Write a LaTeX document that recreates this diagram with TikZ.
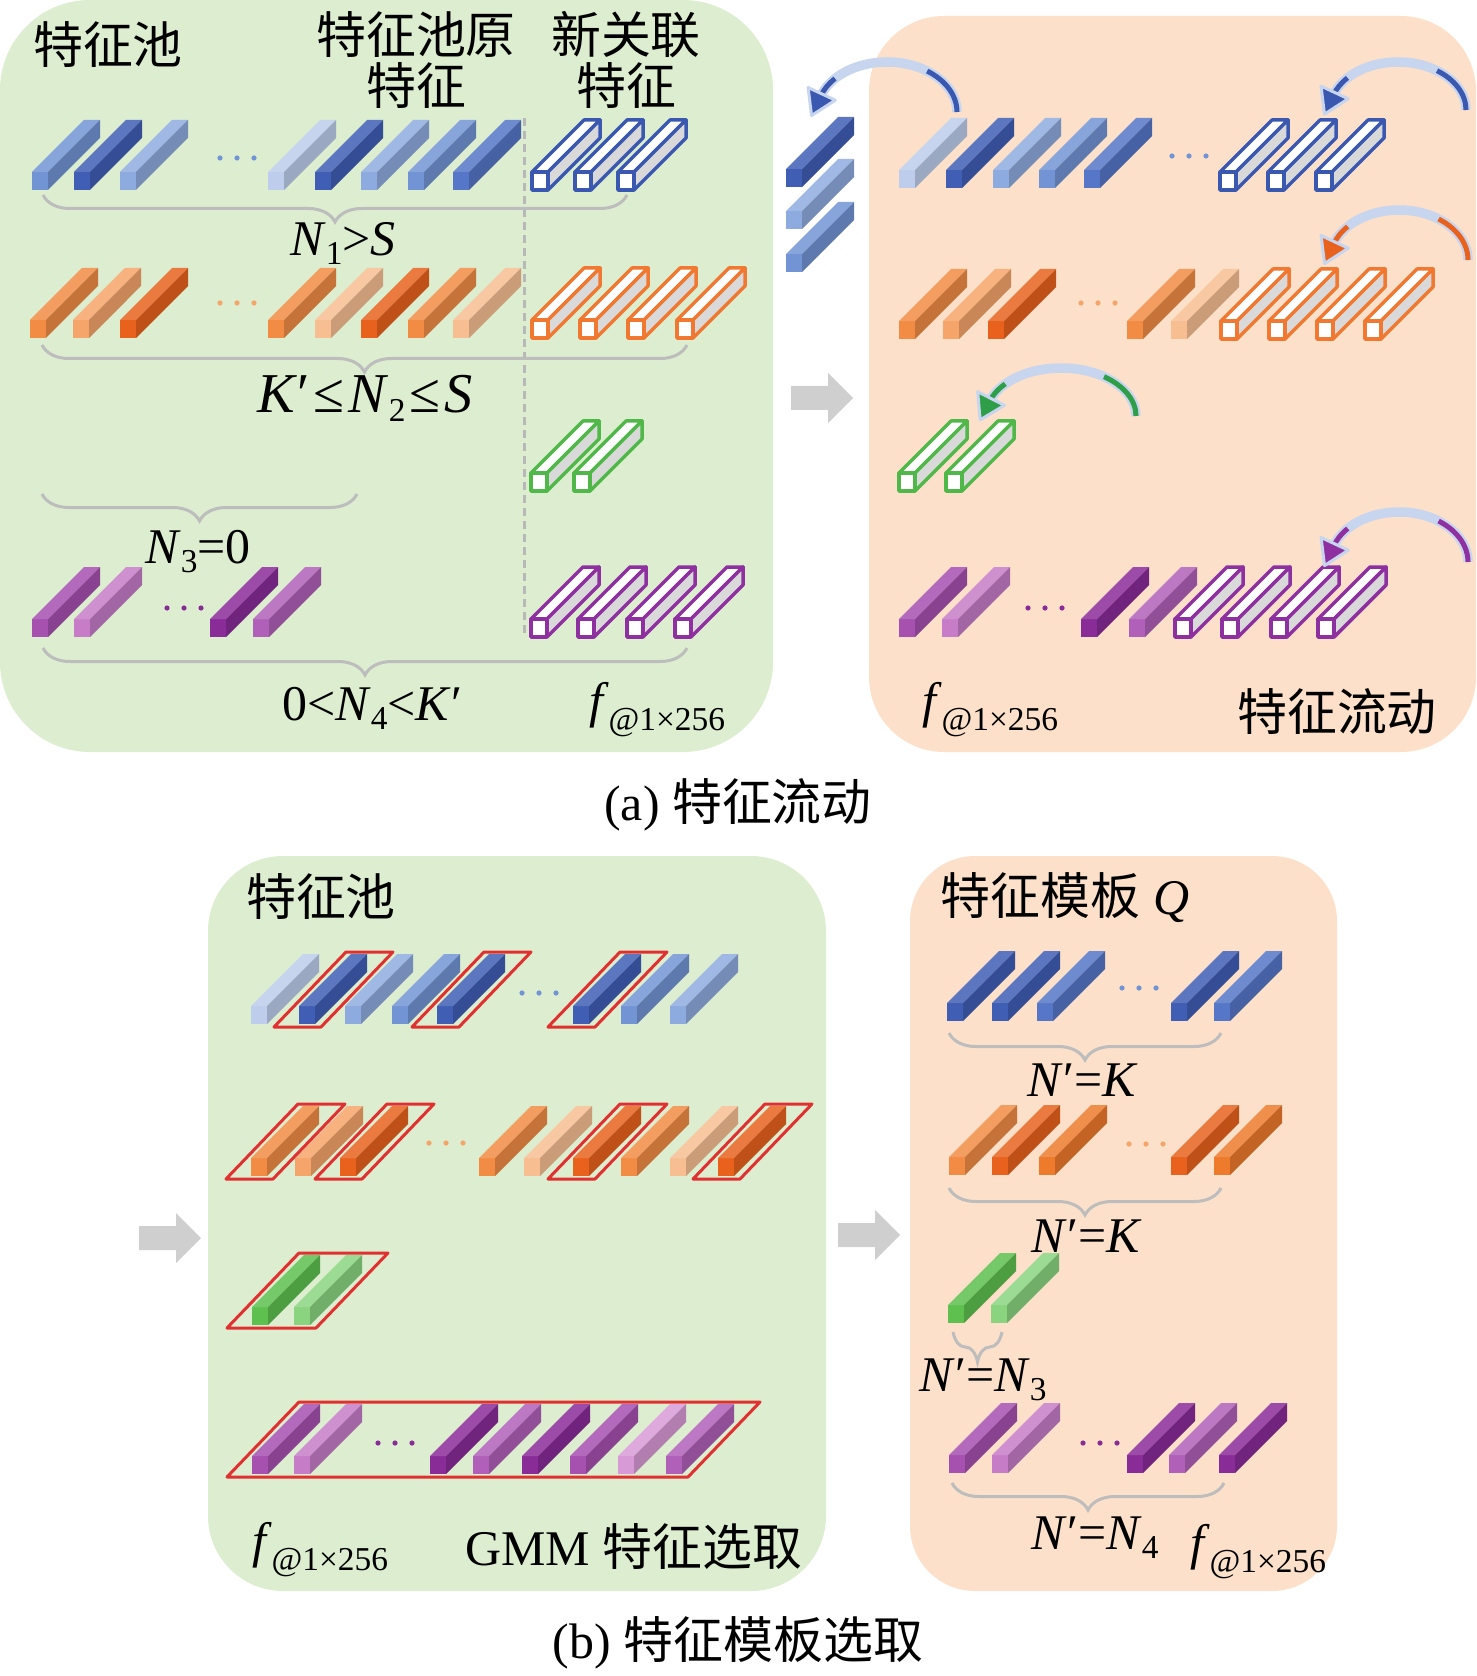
\documentclass[tikz,border=0pt]{standalone}
\usepackage{fontspec}
\setmainfont{Liberation Serif}
\newfontfamily\cjk{Noto Sans CJK SC}
\usetikzlibrary{arrows.meta,decorations.pathreplacing}

\definecolor{greenbg}{HTML}{DCEDD0}
\definecolor{orangebg}{HTML}{FCE0C9}
\definecolor{bA}{HTML}{BDCDEB}
\definecolor{bB}{HTML}{8EABDF}
\definecolor{bC}{HTML}{7294D4}
\definecolor{bD}{HTML}{5677C8}
\definecolor{bE}{HTML}{3F5EB4}
\definecolor{oA}{HTML}{F7BE92}
\definecolor{oB}{HTML}{F5A46A}
\definecolor{oC}{HTML}{F28C45}
\definecolor{oD}{HTML}{EE7A2C}
\definecolor{oE}{HTML}{E8621E}
\definecolor{gA}{HTML}{5EC04F}
\definecolor{gB}{HTML}{8AD480}
\definecolor{pA}{HTML}{A650B0}
\definecolor{pB}{HTML}{C77CC8}
\definecolor{pC}{HTML}{8A2C98}
\definecolor{pD}{HTML}{B060B8}
\definecolor{pE}{HTML}{D89AD6}
\definecolor{hB}{HTML}{3A58B0}
\definecolor{hO}{HTML}{F07830}
\definecolor{hG}{HTML}{50B848}
\definecolor{hP}{HTML}{8E30A0}
\definecolor{dG}{HTML}{2E9E48}
\definecolor{braceg}{HTML}{BDBDBD}
\definecolor{dashg}{HTML}{B8B8B8}
\definecolor{garrowc}{HTML}{CFCFCF}
\definecolor{selred}{HTML}{E03030}
\definecolor{arrowlight}{HTML}{C8D5EE}

\tikzset{
  pics/fbar/.style={code={
    \fill[#1] (0,0) rectangle (16,-18);
    \fill[#1!85!white] (0,-18) -- (16,-18) -- (68,-70) -- (52,-70) -- cycle;
    \fill[#1!82!black] (16,0) -- (16,-18) -- (68,-70) -- (68,-52) -- cycle;
  }},
  pics/hbar/.style={code={
    \begin{scope}[draw=#1, line width=0.35mm, line join=round]
    \filldraw[fill=white] (0,-18) -- (16,-18) -- (68,-70) -- (52,-70) -- cycle;
    \filldraw[fill=gray!30] (16,0) -- (16,-18) -- (68,-70) -- (68,-52) -- cycle;
    \filldraw[fill=white] (0,0) rectangle (16,-18);
    \end{scope}
  }},
  pics/garrow/.style={code={
    \fill[garrowc] (0,-12) -- (37,-12) -- (37,-25) -- (62,0) -- (37,25) -- (37,12) -- (0,12) -- cycle;
  }},
  pics/fhead/.style={code={
    \filldraw[fill=#1, draw=arrowlight, line width=0.3mm, line join=round] (-15,-3) -- (15,-3) -- (0,21) -- cycle;
  }},
  brc/.style={draw=braceg, line width=0.3mm, decorate, decoration={brace, mirror, amplitude=2.7mm}},
  sel/.style={draw=selred, line width=0.3mm, line join=round},
  lbl/.style={inner sep=0pt, font=\fontsize{14.2}{14.5}\selectfont},
  cjklbl/.style={inner sep=0pt, font=\cjk\fontsize{14.2}{14.5}\selectfont},
}

\newcommand\sub[1]{\raisebox{-0.9mm}{\fontsize{9.5}{9.5}\selectfont#1}}
\newcommand\fdim{\textit{f}\raisebox{-1.3mm}{\fontsize{9.5}{9.5}\selectfont @1×256}}
\newcommand\tdots[3]{\foreach \k in {0,1,2} \fill[#3] (#1+17*\k,#2) circle (0.26mm);}
\newcommand\selbox[3]{\draw[sel] (#1-25,#3+3) -- (#2+22,#3+3) -- (#2+94,#3-72) -- (#1+47,#3-72) -- cycle;}
\newcommand\flow[7]{%
  \coordinate (#1) at (#2,#3);
  \path (#1) arc[start angle=0, end angle=-162, x radius=#4, y radius=#5] coordinate (#1h);
  \draw[arrowlight, line width=0.95mm] (#1) arc[start angle=0, end angle=-162, x radius=#4, y radius=#5];
  \draw[#6, line width=0.5mm] (#1) arc[start angle=0, end angle=-55, x radius=#4, y radius=#5];
  \draw[#6, line width=0.5mm] (#1h) arc[start angle=-162, end angle=-138, x radius=#4, y radius=#5];
  \pic[rotate=#7] at (#1h) {fhead=#6};}

\begin{document}
\begin{tikzpicture}[x=0.1mm, y=-0.1mm]
\useasboundingbox (0,0) rectangle (1476,1676);
\fill[greenbg, rounded corners=9mm] (0,0) rectangle (773,752);
\fill[orangebg, rounded corners=7.5mm] (869,16) rectangle (1476,752);
\fill[greenbg, rounded corners=7.5mm] (208,856) rectangle (826,1591);
\fill[orangebg, rounded corners=6.5mm] (910,856) rectangle (1337,1591);

\coordinate (sepTop) at (524,118);
\coordinate (sepBot) at (524,635);
\draw[dashg, line width=0.3mm, dash pattern=on 0.8mm off 0.5mm] (sepTop) -- (sepBot);

\foreach \x/\col in {32/bC,74/bE,120/bB,268/bA,315/bE,361/bB,408/bC,453/bD} \pic at (\x,190) {fbar=\col};
\foreach \x in {532,575,618} \pic at (\x,190) {hbar=hB};
\tdots{220}{158}{bC}
\foreach \x/\col in {30/oC,73/oB,120/oE,268/oC,315/oA,361/oE,408/oC,453/oA} \pic at (\x,338) {fbar=\col};
\foreach \x in {532,580,628,677} \pic at (\x,338) {hbar=hO};
\tdots{220}{303}{oB}
\foreach \x in {531,574} \pic at (\x,491) {hbar=hG};
\foreach \x/\col in {32/pA,74/pB,210/pC,253/pD} \pic at (\x,637) {fbar=\col};
\foreach \x in {531,578,627,675} \pic at (\x,637) {hbar=hP};
\tdots{167}{608}{pC}

\draw[brc] (43,195) -- (627,195);
\draw[brc] (42,345) -- (687,345);
\draw[brc] (42,494) -- (357,494);
\draw[brc] (43,648) -- (687,648);

\node[cjklbl] (poolA) at (108,45) {特征池};
\node[cjklbl, align=center] (oldA) at (416,60) {特征池原\\特征};
\node[cjklbl, align=center] (newA) at (626,60) {新关联\\特征};
\node[lbl] (nOne) at (343,243) {\textit{N}\sub{1}>\textit{S}};
\node[lbl, font=\fontsize{16}{16}\selectfont] (nTwo) at (365,398) {\textit{K}′\kern0.4mm≤\kern0.4mm\textit{N}\sub{2}\kern0.4mm≤\kern0.4mm\textit{S}};
\node[lbl] (nThree) at (198,552) {\textit{N}\sub{3}=0};
\node[lbl] (nFour) at (372,708) {0<\textit{N}\sub{4}<\textit{K}′};
\node[lbl] (fA) at (657,710) {\fdim};

\foreach \y/\col in {187/bE,229/bB,272/bC} \pic at (786,\y) {fbar=\col};
\pic at (791,398) {garrow};

\foreach \x/\col in {899/bA,946/bE,993/bB,1039/bC,1084/bD} \pic at (\x,188) {fbar=\col};
\tdots{1172}{156}{bC}
\foreach \x in {1220,1268,1316} \pic at (\x,190) {hbar=hB};
\foreach \x/\col in {899/oC,943/oB,988/oE,1127/oC,1171/oA} \pic at (\x,339) {fbar=\col};
\tdots{1081}{303}{oB}
\foreach \x in {1221,1269,1317,1365} \pic at (\x,339) {hbar=hO};
\foreach \x in {899,946} \pic at (\x,491) {hbar=hG};
\foreach \x/\col in {899/pA,942/pB,1081/pC,1129/pD} \pic at (\x,637) {fbar=\col};
\tdots{1028}{608}{pC}
\foreach \x in {1175,1222,1271,1318} \pic at (\x,637) {hbar=hP};

\flow{flowOut}{957}{112}{70}{50}{hB}{-25}
\flow{flowBlue}{1466}{110}{68}{48}{hB}{-25}
\flow{flowOrange}{1468}{260}{69}{50}{oE}{-25}
\flow{flowGreen}{1136}{416}{75}{48}{dG}{-27}
\flow{flowPurple}{1468}{562}{69}{50}{hP}{-25}

\node[lbl] (fB) at (990,710) {\fdim};
\node[cjklbl] (flowT) at (1337,712) {特征流动};
\node[lbl] (capA) at (738,805) {(a) {\cjk 特征流动}};

\foreach \x/\col in {251/bA,299/bE,345/bB,392/bC,437/bE,573/bE,621/bC,670/bB} \pic at (\x,1024) {fbar=\col};
\tdots{522}{993}{bC}
\selbox{299}{299}{1024}
\selbox{437}{437}{1024}
\selbox{573}{573}{1024}
\foreach \x/\col in {251/oC,295/oB,340/oE,479/oC,524/oA,573/oE,621/oC,670/oA,718/oE} \pic at (\x,1176) {fbar=\col};
\tdots{429}{1143}{oB}
\selbox{251}{251}{1176}
\selbox{340}{340}{1176}
\selbox{573}{573}{1176}
\selbox{718}{718}{1176}
\foreach \x/\col in {252/gA,294/gB} \pic at (\x,1325) {fbar=\col};
\selbox{252}{294}{1325}
\foreach \x/\col in {252/pA,294/pB,430/pC,473/pD,522/pC,570/pA,618/pE,666/pD} \pic at (\x,1474) {fbar=\col};
\tdots{378}{1443}{pC}
\selbox{252}{666}{1474}

\pic at (139,1238) {garrow};
\pic at (838,1235) {garrow};

\node[cjklbl] (poolB) at (321,897) {特征池};
\node[lbl] (fC) at (320,1550) {\fdim};
\node[lbl] (gmm) at (634,1546) {GMM {\cjk 特征选取}};

\foreach \x/\col in {947/bE,992/bE,1037/bD,1171/bE,1214/bD} \pic at (\x,1021) {fbar=\col};
\tdots{1122}{988}{bC}
\foreach \x/\col in {949/oC,992/oE,1039/oD,1171/oE,1214/oD} \pic at (\x,1175) {fbar=\col};
\tdots{1129}{1144}{oB}
\foreach \x/\col in {948/gA,991/gB} \pic at (\x,1323) {fbar=\col};
\foreach \x/\col in {949/pA,992/pB,1127/pC,1169/pD,1219/pC} \pic at (\x,1473) {fbar=\col};
\tdots{1083}{1443}{pC}

\draw[brc] (949,1033) -- (1221,1033);
\draw[brc] (949,1188) -- (1221,1188);
\draw[brc, decoration={brace, mirror, amplitude=3mm}] (953,1332) -- (1002,1332);
\draw[brc] (952,1483) -- (1224,1483);

\node[lbl] (tmpl) at (1065,898) {{\cjk 特征模板} \textit{Q}};
\node[lbl] (kOne) at (1083,1080) {\textit{N}′=\textit{K}};
\node[lbl] (kTwo) at (1087,1236) {\textit{N}′=\textit{K}};
\node[lbl] (kThree) at (983,1380) {\textit{N}′=\textit{N}\sub{3}};
\node[lbl] (kFour) at (1095,1538) {\textit{N}′=\textit{N}\sub{4}};
\node[lbl] (fD) at (1258,1552) {\fdim};
\node[lbl] (capB) at (738,1643) {(b) {\cjk 特征模板选取}};
\end{tikzpicture}
\end{document}
